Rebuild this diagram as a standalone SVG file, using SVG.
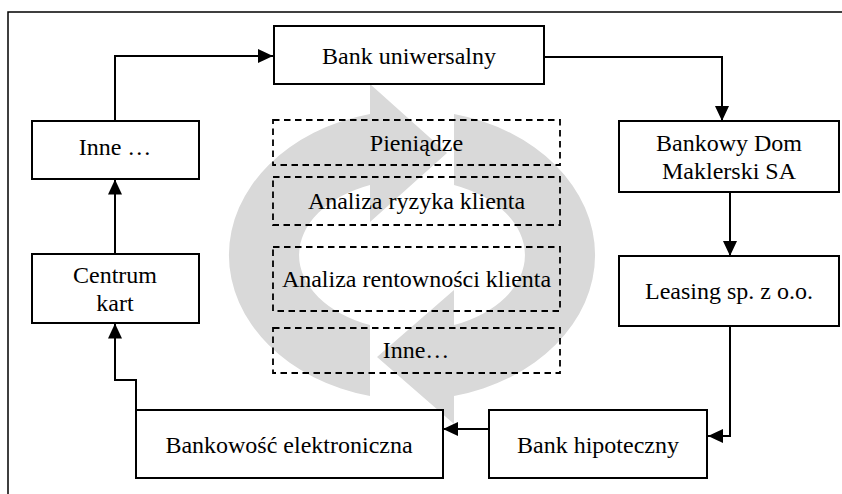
<svg xmlns="http://www.w3.org/2000/svg" width="842" height="494" viewBox="0 0 842 494">
<style>
text{font-family:'Times New Roman','Liberation Serif',Tinos,serif;font-size:24px;fill:#000;text-anchor:middle}
.box{fill:#fff;stroke:#000;stroke-width:2}
.dbox{fill:none;stroke:#000;stroke-width:1.8;stroke-dasharray:6.5,4.5}
.conn{fill:none;stroke:#000;stroke-width:2}
.cyc{fill:#d9d9d9;stroke:none}
</style>
<defs>
<marker id="ah" markerUnits="userSpaceOnUse" markerWidth="16" markerHeight="14" refX="15" refY="7" orient="auto">
<path d="M0,0 L15,7 L0,14 Z" fill="#000"/>
</marker>
</defs>
<rect width="842" height="494" fill="#fff"/>
<path d="M8,494 V12 H842" fill="none" stroke="#000" stroke-width="1.5"/>
<g id="cycle">
<path class="cyc" d="M370,84 L447,153 L370,222 L370,185 A114,75.6 0 0 0 370,325 L370,396 A184,145 0 0 1 370,114 Z"/>
<path class="cyc" d="M454,424 L377,357 L454,290 L454,325 A114,75.6 0 0 0 454,185 L454,114 A184,145 0 0 1 454,396 Z"/>
</g>
<g id="connectors">
<path class="conn" d="M115,121 V56 H273" marker-end="url(#ah)"/>
<path class="conn" d="M538,57 H722 V121" marker-end="url(#ah)"/>
<path class="conn" d="M730,192 V256" marker-end="url(#ah)"/>
<path class="conn" d="M730,326 V436 H708" marker-end="url(#ah)"/>
<path class="conn" d="M489,429 H443" marker-end="url(#ah)"/>
<path class="conn" d="M136,410 V380 H115 V323.5" marker-end="url(#ah)"/>
<path class="conn" d="M115,254 V179.5" marker-end="url(#ah)"/>
</g>
<g id="bank-uniwersalny">
<rect class="box" x="274" y="26" width="270" height="58"/>
<text x="409" y="64">Bank uniwersalny</text>
</g>
<g id="bankowy-dom">
<rect class="box" x="619" y="121" width="220" height="71"/>
<text x="729" y="150.5">Bankowy Dom</text>
<text x="729" y="178.5">Maklerski SA</text>
</g>
<g id="leasing">
<rect class="box" x="619" y="256" width="220" height="70"/>
<text x="729" y="299">Leasing sp. z o.o.</text>
</g>
<g id="bank-hipoteczny">
<rect class="box" x="489" y="410" width="218" height="68"/>
<text x="598" y="452.5">Bank hipoteczny</text>
</g>
<g id="bankowosc-elektroniczna">
<rect class="box" x="136" y="410" width="307" height="68"/>
<text x="289" y="452.5">Bankowość elektroniczna</text>
</g>
<g id="centrum-kart">
<rect class="box" x="32" y="254" width="167" height="69"/>
<text x="115" y="283">Centrum</text>
<text x="115" y="310.5">kart</text>
</g>
<g id="inne-left">
<rect class="box" x="32" y="121" width="167" height="58"/>
<text x="115" y="154.5">Inne …</text>
</g>
<g id="pieniadze">
<rect class="dbox" x="273" y="120" width="287" height="45"/>
<text x="416.5" y="150.5">Pieniądze</text>
</g>
<g id="analiza-ryzyka">
<rect class="dbox" x="273" y="177" width="287" height="48"/>
<text x="416.5" y="208.5">Analiza ryzyka klienta</text>
</g>
<g id="analiza-rentownosci">
<rect class="dbox" x="273" y="247" width="287" height="64"/>
<text x="416.5" y="287">Analiza rentowności klienta</text>
</g>
<g id="inne-center">
<rect class="dbox" x="273" y="328" width="287" height="45"/>
<text x="416" y="358">Inne…</text>
</g>
</svg>
